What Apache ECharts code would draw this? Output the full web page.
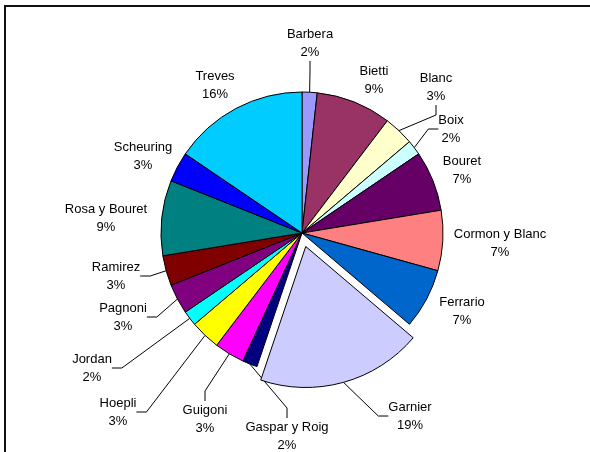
<!DOCTYPE html>
<html>
<head>
<meta charset="utf-8">
<script src="https://cdn.jsdelivr.net/npm/echarts@6/dist/echarts.min.js"></script>
<style>html,body{margin:0;padding:0;background:#fff;}#c{width:590px;height:452px;}</style>
</head>
<body>
<div id="c"></div>
<script>
// ---- data ----
const categories = ['Barbera','Bietti','Blanc','Boix','Bouret','Cormon y Blanc','Ferrario','Garnier','Gaspar y Roig','Guigoni','Hoepli','Jordan','Pagnoni','Ramirez','Rosa y Bouret','Scheuring','Treves'];
const counts = [1,5,2,1,4,4,4,11,1,2,2,1,2,2,5,2,9];
const explodedCategory = 'Garnier';

// ---- styling / layout (not data) ----
const colors = ['#9999FF','#993366','#FFFFCC','#CCFFFF','#660066','#FF8080','#0066CC','#CCCCFF','#000080','#FF00FF','#FFFF00','#00FFFF','#800080','#800000','#008080','#0000FF','#00CCFF'];
const showLeader = [true,false,true,true,false,false,false,true,true,true,true,true,true,true,false,false,false];
// label centre offsets from pie centre
const labelDx = [8,72,134,149,160,198,160,108,-15,-97,-184,-210,-179,-186,-196,-159,-87];
const labelDy = [-190,-153,-146,-104,-63,10,78,183,203,186,179,135,84,43,-15,-77,-148];
const cx = 302, cy = 233, R = 141, explodeOffset = 14;

const total = counts.reduce((a,b)=>a+b,0);
const exIdx = categories.indexOf(explodedCategory);
const before = counts.slice(0, exIdx).reduce((a,b)=>a+b,0);
const midAng = (before + counts[exIdx] / 2) / total * 2 * Math.PI; // clockwise from top
const ex = explodeOffset * Math.sin(midAng), ey = -explodeOffset * Math.cos(midAng);

function makeSeries(isExploded) {
  const ccx = isExploded ? cx + ex : cx, ccy = isExploded ? cy + ey : cy;
  return {
    type: 'pie',
    center: [ccx, ccy],
    radius: [0, R],
    startAngle: 90,
    clockwise: true,
    avoidLabelOverlap: false,
    silent: true,
    emphasis: {disabled: true},
    itemStyle: {borderColor:'#000', borderWidth:1},
    label: {
      show: true, position: 'outside',
      fontFamily: 'Liberation Sans, Arial, sans-serif', fontSize: 13, color: '#000',
      lineHeight: 18, align: 'center',
      formatter: p => p.name + '\n' + Math.round(p.value / total * 100) + '%'
    },
    labelLine: {show: true, length: 10, length2: 10, lineStyle: {color:'#000', width:1}},
    labelLayout: function (params) {
      const i = params.dataIndex;
      return {x: cx + labelDx[i], y: cy + labelDy[i], align: 'center', verticalAlign: 'middle'};
    },
    data: categories.map((c, i) => {
      const visible = (c === explodedCategory) === isExploded;
      return {
        name: c, value: counts[i],
        itemStyle: visible ? {color: colors[i]} : {color: 'rgba(0,0,0,0)', borderWidth: 0},
        label: {show: visible},
        labelLine: {show: visible && showLeader[i]}
      };
    })
  };
}

const chart = echarts.init(document.getElementById('c'), null, {renderer:'canvas'});
chart.setOption({
  animation: false,
  backgroundColor: '#fff',
  graphic: [{type:'rect', shape:{x:5, y:6, width:620, height:480}, style:{fill:'none', stroke:'#111', lineWidth:2}, silent:true}],
  series: [makeSeries(false), makeSeries(true)]
});
</script>
</body>
</html>
